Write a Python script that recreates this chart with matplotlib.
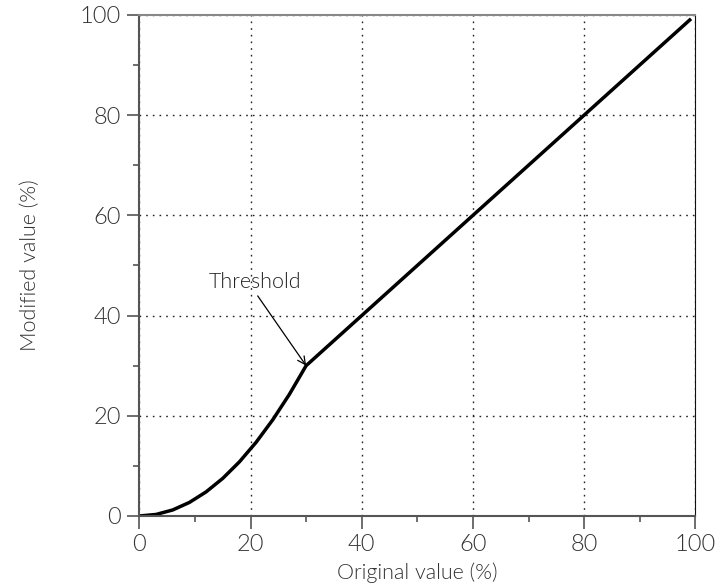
import matplotlib.pyplot as plt
from matplotlib.ticker import MultipleLocator

# curve: quadratic-looking ramp up to the threshold, then straight
original = [0, 3, 6, 9, 12, 15, 18, 21, 24, 27, 30, 99]
modified = [0, 0.3, 1.2, 2.7, 4.8, 7.5, 10.8, 14.7, 19.2, 24.3, 30, 99]
threshold = (30, 30)
threshold_label = "Threshold"

plt.rcParams['font.family'] = ['Lato', 'DejaVu Sans']
plt.rcParams['font.weight'] = 300
plt.rcParams['axes.labelweight'] = 300

fig = plt.figure(figsize=(7.16, 5.86), dpi=100)
ax = fig.add_axes([0.1946, 0.1195, 0.7765, 0.855])

ax.plot(original, modified, color='black', lw=2.5, solid_joinstyle='miter')

ax.set_xlim(0, 100)
ax.set_ylim(0, 100)
ax.xaxis.set_major_locator(MultipleLocator(20))
ax.yaxis.set_major_locator(MultipleLocator(20))
ax.xaxis.set_minor_locator(MultipleLocator(10))
ax.yaxis.set_minor_locator(MultipleLocator(10))
ax.tick_params(which='major', direction='out', length=9, width=1.2, color='#555555',
               labelsize=17, labelcolor='#333333', pad=4)
ax.tick_params(which='minor', direction='out', length=4.5, width=1.2, color='#555555')
for lbl in ax.get_xticklabels() + ax.get_yticklabels():
    lbl.set_fontweight(300)

ax.grid(True, which='major', linestyle=(0, (1.2, 3.6)), color='#222222', lw=1.0)

for side in ['left', 'bottom']:
    ax.spines[side].set_color('#555555')
    ax.spines[side].set_linewidth(1.5)
ax.spines['top'].set_color('#888888')
ax.spines['top'].set_linewidth(1.5)
ax.spines['right'].set_color('#111111')
ax.spines['right'].set_linewidth(0.8)

ax.set_xlabel("Original value (%)", fontsize=15.5, fontweight=300, color='#333333', labelpad=5)
ax.set_ylabel("Modified value (%)", fontsize=15.5, fontweight=300, color='#333333', labelpad=29)

ax.annotate(threshold_label, xy=threshold, xytext=(20.8, 46.7),
            ha='center', va='center', fontsize=15.5, fontweight=300, color='#222222',
            arrowprops=dict(arrowstyle='->', color='black', lw=0.9, relpos=(0.5, 0),
                            shrinkA=1, shrinkB=0, mutation_scale=14))

fig.savefig('out.png', dpi=100)
